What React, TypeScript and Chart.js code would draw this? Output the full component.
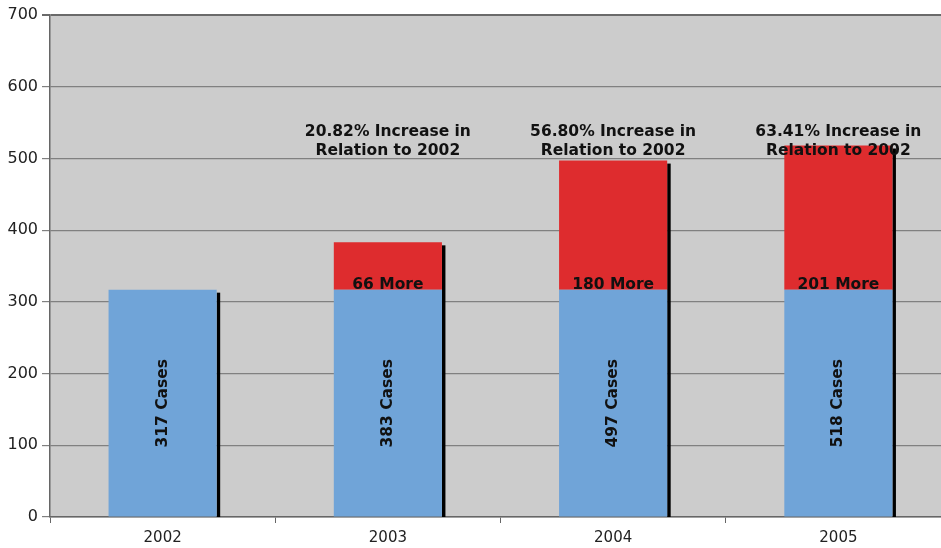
import React, { useEffect, useRef } from "react";
import { Chart, registerables } from "chart.js";

Chart.register(...registerables);

const years = ["2002", "2003", "2004", "2005"];
const baseCases = [317, 317, 317, 317];
const moreCases = [0, 66, 180, 201];
const totalCases = [317, 383, 497, 518];
const increasePercents = ["", "20.82%", "56.80%", "63.41%"];
const yTicks = [0, 100, 200, 300, 400, 500, 600, 700];

const ANNOTATION_VALUE = 537;
const FONT = "'DejaVu Sans', Verdana, sans-serif";

const backgroundPlugin = {
  id: "plotBg",
  beforeDraw(chart: any) {
    const { ctx, chartArea } = chart;
    ctx.save();
    ctx.fillStyle = "#cccccc";
    ctx.fillRect(chartArea.left, chartArea.top, chartArea.right - chartArea.left, chartArea.bottom - chartArea.top);
    ctx.restore();
  },
};

const shadowPlugin = {
  id: "barShadow",
  beforeDatasetsDraw(chart: any) {
    const { ctx } = chart;
    const yScale = chart.scales.y;
    const meta = chart.getDatasetMeta(0);
    ctx.save();
    ctx.fillStyle = "#000000";
    meta.data.forEach((bar: any, i: number) => {
      const right = bar.x + bar.width / 2;
      const top = yScale.getPixelForValue(totalCases[i]) + 3;
      const bottom = yScale.getPixelForValue(0);
      ctx.fillRect(right, top, 3.5, bottom - top);
    });
    ctx.restore();
  },
};

const labelPlugin = {
  id: "barLabels",
  afterDatasetsDraw(chart: any) {
    const { ctx } = chart;
    const yScale = chart.scales.y;
    const meta = chart.getDatasetMeta(0);
    ctx.save();
    ctx.fillStyle = "#111111";
    ctx.font = `bold 15.5px ${FONT}`;
    ctx.textAlign = "center";
    ctx.textBaseline = "middle";
    meta.data.forEach((bar: any, i: number) => {
      const x = bar.x;
      const segTop = yScale.getPixelForValue(baseCases[i]);
      const segBottom = yScale.getPixelForValue(0);
      ctx.save();
      ctx.translate(x, (segTop + segBottom) / 2);
      ctx.rotate(-Math.PI / 2);
      ctx.fillText(`${totalCases[i]} Cases`, 0, 0);
      ctx.restore();
      if (moreCases[i] > 0) {
        ctx.fillText(`${moreCases[i]} More`, x, segTop - 5);
      }
      if (increasePercents[i]) {
        const ay = yScale.getPixelForValue(ANNOTATION_VALUE);
        ctx.fillText(`${increasePercents[i]} Increase in`, x, ay);
        ctx.fillText("Relation to 2002", x, ay + 19);
      }
    });
    ctx.restore();
  },
};

export default function App() {
  const canvasRef = useRef<HTMLCanvasElement | null>(null);

  useEffect(() => {
    document.body.style.margin = "0";
    const canvas = canvasRef.current;
    if (!canvas) return;
    const chart = new Chart(canvas, {
      type: "bar",
      data: {
        labels: years,
        datasets: [
          {
            label: "Cases",
            data: baseCases,
            backgroundColor: "#70a4d8",
            borderWidth: 0,
            barPercentage: 0.48,
            categoryPercentage: 1,
          },
          {
            label: "More",
            data: moreCases,
            backgroundColor: "#de2c2e",
            borderWidth: 0,
            barPercentage: 0.48,
            categoryPercentage: 1,
          },
        ],
      },
      options: {
        animation: false,
        responsive: false,
        maintainAspectRatio: false,
        devicePixelRatio: 1,
        layout: { padding: { top: 15, right: 9, left: 0, bottom: 0 } },
        plugins: {
          legend: { display: false },
          tooltip: { enabled: false },
          title: { display: false },
        },
        scales: {
          x: {
            stacked: true,
            offset: true,
            grid: {
              display: true,
              offset: true,
              drawOnChartArea: false,
              drawTicks: true,
              tickLength: 6,
              color: "#666666",
            },
            border: { display: true, color: "#666666", width: 1.5 },
            ticks: {
              color: "#222222",
              font: { family: FONT, size: 15 },
              padding: 6,
            },
            afterFit(scale: any) {
              scale.height = 31;
            },
          },
          y: {
            stacked: true,
            min: 0,
            max: 700,
            afterBuildTicks(scale: any) {
              scale.ticks = yTicks.map((v) => ({ value: v }));
            },
            grid: {
              color: (c: any) => (c.tick && c.tick.value === 700 ? "#6a6a6a" : "#808080"),
              lineWidth: (c: any) => (c.tick && c.tick.value === 700 ? 2 : 1.2),
              tickLength: 8,
              drawTicks: true,
            },
            border: { display: true, color: "#666666", width: 1.5 },
            ticks: {
              color: "#222222",
              font: { family: FONT, size: 16 },
              padding: 4,
            },
            afterFit(scale: any) {
              scale.width = 50;
            },
          },
        },
      },
      plugins: [backgroundPlugin, shadowPlugin, labelPlugin],
    });
    return () => chart.destroy();
  }, []);

  return (
    <div style={{ width: 941, height: 548, overflow: "hidden", background: "#ffffff" }}>
      <canvas ref={canvasRef} width={960} height={548} style={{ display: "block", width: 960, height: 548 }} />
    </div>
  );
}
